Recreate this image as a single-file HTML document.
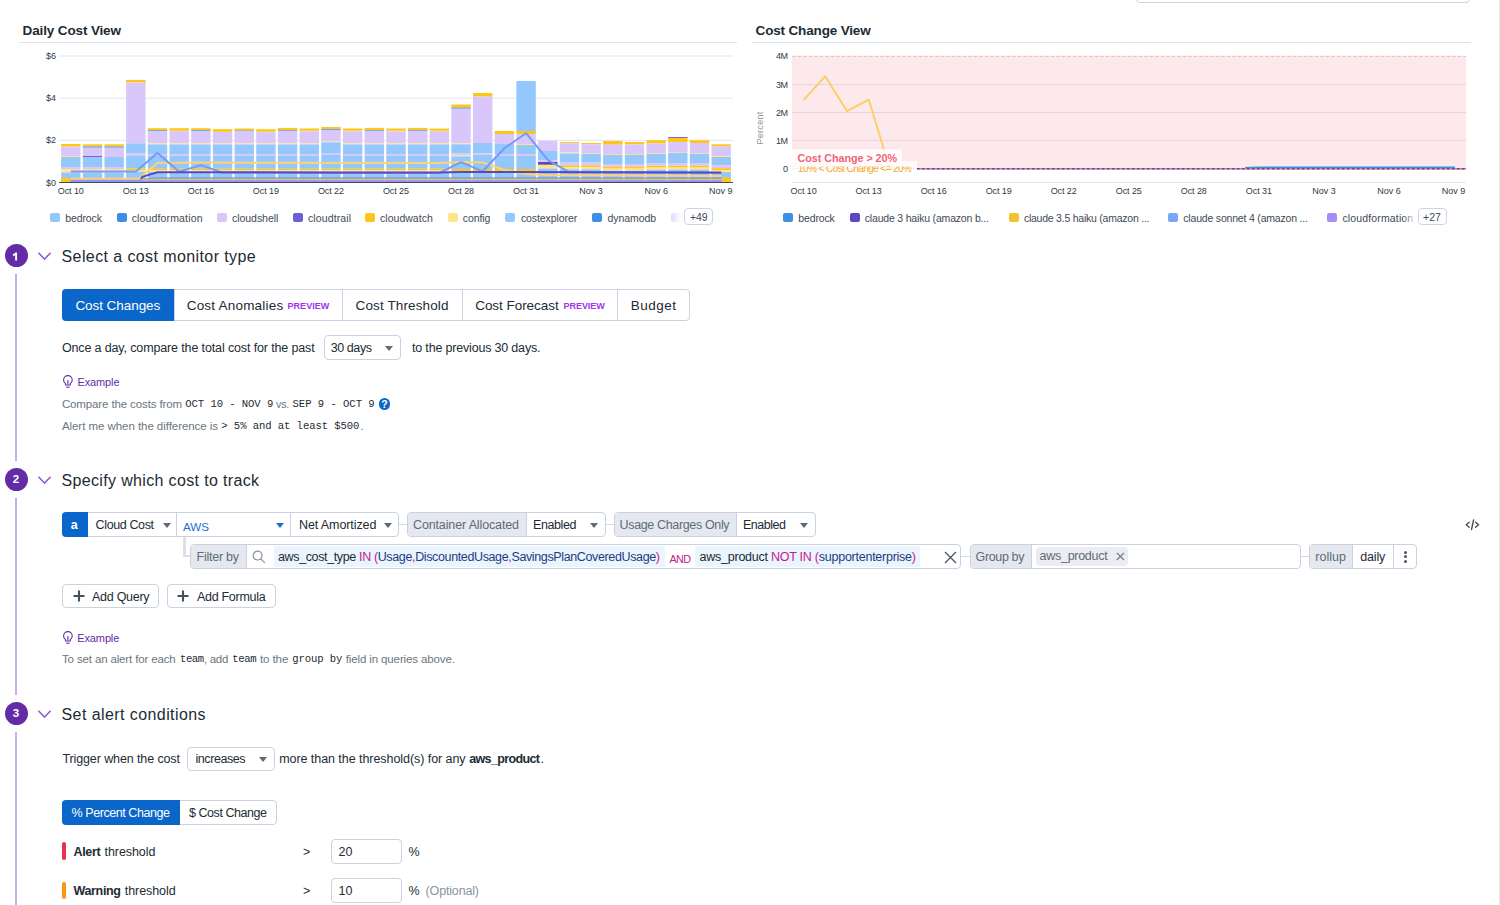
<!DOCTYPE html>
<html><head><meta charset="utf-8"><title>Cost Monitor</title>
<style>html,body{margin:0;padding:0;background:#fff;width:1500px;height:905px;overflow:hidden;position:relative;font-family:'Liberation Sans', sans-serif;}</style>
</head><body>
<div style="position:absolute;left:1135.5px;top:-30px;width:332px;height:31px;border:1px solid #cbd0e3;border-radius:4px;"></div>
<div style="position:absolute;left:1499.00px;top:0.00px;width:1.00px;height:905.00px;background:#e8e8ea"></div>
<div style="position:absolute;left:19.00px;top:42.00px;width:718.00px;height:1.00px;background:#dde1ea"></div>
<div style="position:absolute;left:752.00px;top:42.00px;width:719.00px;height:1.00px;background:#dde1ea"></div>
<svg width="760" height="200" style="position:absolute;left:0;top:0">
<rect x="59" y="55.5" width="674" height="1" fill="#e3e5ea"/>
<rect x="59" y="97.7" width="674" height="1" fill="#e3e5ea"/>
<rect x="59" y="139.8" width="674" height="1" fill="#e3e5ea"/>
<rect x="61.10" y="144.00" width="19.4" height="2.30" fill="#ffc61a"/>
<rect x="61.10" y="146.30" width="19.4" height="0.50" fill="#ffc61a"/>
<rect x="61.10" y="146.80" width="19.4" height="9.20" fill="#d9c7fb"/>
<rect x="61.10" y="156.00" width="19.4" height="1.00" fill="#ffe38a"/>
<rect x="61.10" y="157.00" width="19.4" height="10.00" fill="#94c8fc"/>
<rect x="61.10" y="167.00" width="19.4" height="2.00" fill="#d9c7fb"/>
<rect x="61.10" y="169.00" width="19.4" height="1.50" fill="#ffe38a"/>
<rect x="61.10" y="170.50" width="19.4" height="2.00" fill="#ffe38a"/>
<rect x="61.10" y="172.50" width="19.4" height="5.50" fill="#94c8fc"/>
<rect x="61.10" y="178.00" width="19.4" height="4.40" fill="#94c8fc"/>
<rect x="82.78" y="144.30" width="19.4" height="2.30" fill="#ffc61a"/>
<rect x="82.78" y="146.60" width="19.4" height="1.10" fill="#3b8fe6"/>
<rect x="82.78" y="147.70" width="19.4" height="8.30" fill="#d9c7fb"/>
<rect x="82.78" y="156.00" width="19.4" height="0.90" fill="#5a47c6"/>
<rect x="82.78" y="156.90" width="19.4" height="0.10" fill="#d9c7fb"/>
<rect x="82.78" y="157.00" width="19.4" height="10.00" fill="#94c8fc"/>
<rect x="82.78" y="167.00" width="19.4" height="2.00" fill="#d9c7fb"/>
<rect x="82.78" y="169.00" width="19.4" height="1.50" fill="#ffe38a"/>
<rect x="82.78" y="170.50" width="19.4" height="2.00" fill="#ffe38a"/>
<rect x="82.78" y="172.50" width="19.4" height="5.50" fill="#94c8fc"/>
<rect x="82.78" y="178.00" width="19.4" height="4.40" fill="#94c8fc"/>
<rect x="104.46" y="144.30" width="19.4" height="2.30" fill="#ffc61a"/>
<rect x="104.46" y="146.60" width="19.4" height="1.10" fill="#3b8fe6"/>
<rect x="104.46" y="147.70" width="19.4" height="9.30" fill="#d9c7fb"/>
<rect x="104.46" y="157.00" width="19.4" height="10.00" fill="#94c8fc"/>
<rect x="104.46" y="167.00" width="19.4" height="2.00" fill="#d9c7fb"/>
<rect x="104.46" y="169.00" width="19.4" height="1.50" fill="#ffe38a"/>
<rect x="104.46" y="170.50" width="19.4" height="2.00" fill="#ffe38a"/>
<rect x="104.46" y="172.50" width="19.4" height="5.50" fill="#94c8fc"/>
<rect x="104.46" y="178.00" width="19.4" height="4.40" fill="#94c8fc"/>
<rect x="126.14" y="79.90" width="19.4" height="2.60" fill="#ffc61a"/>
<rect x="126.14" y="82.50" width="19.4" height="60.80" fill="#d9c7fb"/>
<rect x="126.14" y="143.30" width="19.4" height="10.20" fill="#94c8fc"/>
<rect x="126.14" y="153.50" width="19.4" height="2.20" fill="#d9c7fb"/>
<rect x="126.14" y="155.70" width="19.4" height="12.80" fill="#94c8fc"/>
<rect x="126.14" y="168.50" width="19.4" height="1.50" fill="#ffc61a"/>
<rect x="126.14" y="170.00" width="19.4" height="1.50" fill="#ffe38a"/>
<rect x="126.14" y="171.50" width="19.4" height="10.90" fill="#94c8fc"/>
<rect x="147.82" y="128.20" width="19.4" height="2.10" fill="#ffc61a"/>
<rect x="147.82" y="130.30" width="19.4" height="0.80" fill="#3b8fe6"/>
<rect x="147.82" y="131.10" width="19.4" height="12.20" fill="#d9c7fb"/>
<rect x="147.82" y="143.30" width="19.4" height="1.10" fill="#ffe38a"/>
<rect x="147.82" y="144.40" width="19.4" height="9.60" fill="#94c8fc"/>
<rect x="147.82" y="154.00" width="19.4" height="2.00" fill="#d9c7fb"/>
<rect x="147.82" y="156.00" width="19.4" height="12.80" fill="#94c8fc"/>
<rect x="147.82" y="168.80" width="19.4" height="1.30" fill="#ffc61a"/>
<rect x="147.82" y="170.10" width="19.4" height="1.70" fill="#ffe38a"/>
<rect x="147.82" y="171.80" width="19.4" height="10.60" fill="#94c8fc"/>
<rect x="169.50" y="128.20" width="19.4" height="2.10" fill="#ffc61a"/>
<rect x="169.50" y="130.30" width="19.4" height="0.80" fill="#ffc61a"/>
<rect x="169.50" y="131.10" width="19.4" height="12.20" fill="#d9c7fb"/>
<rect x="169.50" y="143.30" width="19.4" height="1.10" fill="#ffe38a"/>
<rect x="169.50" y="144.40" width="19.4" height="9.60" fill="#94c8fc"/>
<rect x="169.50" y="154.00" width="19.4" height="2.00" fill="#d9c7fb"/>
<rect x="169.50" y="156.00" width="19.4" height="12.80" fill="#94c8fc"/>
<rect x="169.50" y="168.80" width="19.4" height="1.30" fill="#ffc61a"/>
<rect x="169.50" y="170.10" width="19.4" height="1.70" fill="#ffe38a"/>
<rect x="169.50" y="171.80" width="19.4" height="10.60" fill="#94c8fc"/>
<rect x="191.18" y="128.20" width="19.4" height="2.10" fill="#ffc61a"/>
<rect x="191.18" y="130.30" width="19.4" height="0.80" fill="#3b8fe6"/>
<rect x="191.18" y="131.10" width="19.4" height="12.20" fill="#d9c7fb"/>
<rect x="191.18" y="143.30" width="19.4" height="1.10" fill="#ffe38a"/>
<rect x="191.18" y="144.40" width="19.4" height="9.60" fill="#94c8fc"/>
<rect x="191.18" y="154.00" width="19.4" height="2.00" fill="#d9c7fb"/>
<rect x="191.18" y="156.00" width="19.4" height="12.80" fill="#94c8fc"/>
<rect x="191.18" y="168.80" width="19.4" height="1.30" fill="#ffc61a"/>
<rect x="191.18" y="170.10" width="19.4" height="1.70" fill="#ffe38a"/>
<rect x="191.18" y="171.80" width="19.4" height="10.60" fill="#94c8fc"/>
<rect x="212.86" y="129.10" width="19.4" height="2.10" fill="#ffc61a"/>
<rect x="212.86" y="131.20" width="19.4" height="0.80" fill="#ffc61a"/>
<rect x="212.86" y="132.00" width="19.4" height="11.30" fill="#d9c7fb"/>
<rect x="212.86" y="143.30" width="19.4" height="1.10" fill="#ffe38a"/>
<rect x="212.86" y="144.40" width="19.4" height="9.60" fill="#94c8fc"/>
<rect x="212.86" y="154.00" width="19.4" height="2.00" fill="#d9c7fb"/>
<rect x="212.86" y="156.00" width="19.4" height="12.80" fill="#94c8fc"/>
<rect x="212.86" y="168.80" width="19.4" height="1.30" fill="#ffc61a"/>
<rect x="212.86" y="170.10" width="19.4" height="1.70" fill="#ffe38a"/>
<rect x="212.86" y="171.80" width="19.4" height="10.60" fill="#94c8fc"/>
<rect x="234.54" y="128.50" width="19.4" height="2.10" fill="#ffc61a"/>
<rect x="234.54" y="130.60" width="19.4" height="0.80" fill="#3b8fe6"/>
<rect x="234.54" y="131.40" width="19.4" height="11.90" fill="#d9c7fb"/>
<rect x="234.54" y="143.30" width="19.4" height="1.10" fill="#ffe38a"/>
<rect x="234.54" y="144.40" width="19.4" height="9.60" fill="#94c8fc"/>
<rect x="234.54" y="154.00" width="19.4" height="2.00" fill="#d9c7fb"/>
<rect x="234.54" y="156.00" width="19.4" height="12.80" fill="#94c8fc"/>
<rect x="234.54" y="168.80" width="19.4" height="1.30" fill="#ffc61a"/>
<rect x="234.54" y="170.10" width="19.4" height="1.70" fill="#ffe38a"/>
<rect x="234.54" y="171.80" width="19.4" height="10.60" fill="#94c8fc"/>
<rect x="256.22" y="129.20" width="19.4" height="2.10" fill="#ffc61a"/>
<rect x="256.22" y="131.30" width="19.4" height="0.80" fill="#ffc61a"/>
<rect x="256.22" y="132.10" width="19.4" height="11.20" fill="#d9c7fb"/>
<rect x="256.22" y="143.30" width="19.4" height="1.10" fill="#ffe38a"/>
<rect x="256.22" y="144.40" width="19.4" height="9.60" fill="#94c8fc"/>
<rect x="256.22" y="154.00" width="19.4" height="2.00" fill="#d9c7fb"/>
<rect x="256.22" y="156.00" width="19.4" height="12.80" fill="#94c8fc"/>
<rect x="256.22" y="168.80" width="19.4" height="1.30" fill="#ffc61a"/>
<rect x="256.22" y="170.10" width="19.4" height="1.70" fill="#ffe38a"/>
<rect x="256.22" y="171.80" width="19.4" height="10.60" fill="#94c8fc"/>
<rect x="277.90" y="127.90" width="19.4" height="2.10" fill="#ffc61a"/>
<rect x="277.90" y="130.00" width="19.4" height="0.80" fill="#3b8fe6"/>
<rect x="277.90" y="130.80" width="19.4" height="12.50" fill="#d9c7fb"/>
<rect x="277.90" y="143.30" width="19.4" height="1.10" fill="#ffe38a"/>
<rect x="277.90" y="144.40" width="19.4" height="9.60" fill="#94c8fc"/>
<rect x="277.90" y="154.00" width="19.4" height="2.00" fill="#d9c7fb"/>
<rect x="277.90" y="156.00" width="19.4" height="12.80" fill="#94c8fc"/>
<rect x="277.90" y="168.80" width="19.4" height="1.30" fill="#ffc61a"/>
<rect x="277.90" y="170.10" width="19.4" height="1.70" fill="#ffe38a"/>
<rect x="277.90" y="171.80" width="19.4" height="10.60" fill="#94c8fc"/>
<rect x="299.58" y="128.50" width="19.4" height="2.10" fill="#ffc61a"/>
<rect x="299.58" y="130.60" width="19.4" height="0.80" fill="#ffc61a"/>
<rect x="299.58" y="131.40" width="19.4" height="11.90" fill="#d9c7fb"/>
<rect x="299.58" y="143.30" width="19.4" height="1.10" fill="#ffe38a"/>
<rect x="299.58" y="144.40" width="19.4" height="9.60" fill="#94c8fc"/>
<rect x="299.58" y="154.00" width="19.4" height="2.00" fill="#d9c7fb"/>
<rect x="299.58" y="156.00" width="19.4" height="12.80" fill="#94c8fc"/>
<rect x="299.58" y="168.80" width="19.4" height="1.30" fill="#ffc61a"/>
<rect x="299.58" y="170.10" width="19.4" height="1.70" fill="#ffe38a"/>
<rect x="299.58" y="171.80" width="19.4" height="10.60" fill="#94c8fc"/>
<rect x="321.26" y="127.00" width="19.4" height="2.10" fill="#ffc61a"/>
<rect x="321.26" y="129.10" width="19.4" height="0.80" fill="#3b8fe6"/>
<rect x="321.26" y="129.90" width="19.4" height="11.60" fill="#d9c7fb"/>
<rect x="321.26" y="141.50" width="19.4" height="0.80" fill="#ffe38a"/>
<rect x="321.26" y="142.30" width="19.4" height="10.70" fill="#94c8fc"/>
<rect x="321.26" y="153.00" width="19.4" height="1.60" fill="#d9c7fb"/>
<rect x="321.26" y="154.60" width="19.4" height="14.20" fill="#94c8fc"/>
<rect x="321.26" y="168.80" width="19.4" height="1.30" fill="#ffc61a"/>
<rect x="321.26" y="170.10" width="19.4" height="1.70" fill="#ffe38a"/>
<rect x="321.26" y="171.80" width="19.4" height="10.60" fill="#94c8fc"/>
<rect x="342.94" y="128.50" width="19.4" height="2.10" fill="#ffc61a"/>
<rect x="342.94" y="130.60" width="19.4" height="0.80" fill="#ffc61a"/>
<rect x="342.94" y="131.40" width="19.4" height="11.90" fill="#d9c7fb"/>
<rect x="342.94" y="143.30" width="19.4" height="1.10" fill="#ffe38a"/>
<rect x="342.94" y="144.40" width="19.4" height="9.60" fill="#94c8fc"/>
<rect x="342.94" y="154.00" width="19.4" height="2.00" fill="#d9c7fb"/>
<rect x="342.94" y="156.00" width="19.4" height="12.80" fill="#94c8fc"/>
<rect x="342.94" y="168.80" width="19.4" height="1.30" fill="#ffc61a"/>
<rect x="342.94" y="170.10" width="19.4" height="1.70" fill="#ffe38a"/>
<rect x="342.94" y="171.80" width="19.4" height="10.60" fill="#94c8fc"/>
<rect x="364.62" y="127.90" width="19.4" height="2.10" fill="#ffc61a"/>
<rect x="364.62" y="130.00" width="19.4" height="0.80" fill="#3b8fe6"/>
<rect x="364.62" y="130.80" width="19.4" height="12.50" fill="#d9c7fb"/>
<rect x="364.62" y="143.30" width="19.4" height="1.10" fill="#ffe38a"/>
<rect x="364.62" y="144.40" width="19.4" height="9.60" fill="#94c8fc"/>
<rect x="364.62" y="154.00" width="19.4" height="2.00" fill="#d9c7fb"/>
<rect x="364.62" y="156.00" width="19.4" height="12.80" fill="#94c8fc"/>
<rect x="364.62" y="168.80" width="19.4" height="1.30" fill="#ffc61a"/>
<rect x="364.62" y="170.10" width="19.4" height="1.70" fill="#ffe38a"/>
<rect x="364.62" y="171.80" width="19.4" height="10.60" fill="#94c8fc"/>
<rect x="386.30" y="128.50" width="19.4" height="2.10" fill="#ffc61a"/>
<rect x="386.30" y="130.60" width="19.4" height="0.80" fill="#ffc61a"/>
<rect x="386.30" y="131.40" width="19.4" height="11.90" fill="#d9c7fb"/>
<rect x="386.30" y="143.30" width="19.4" height="1.10" fill="#ffe38a"/>
<rect x="386.30" y="144.40" width="19.4" height="9.60" fill="#94c8fc"/>
<rect x="386.30" y="154.00" width="19.4" height="2.00" fill="#d9c7fb"/>
<rect x="386.30" y="156.00" width="19.4" height="12.80" fill="#94c8fc"/>
<rect x="386.30" y="168.80" width="19.4" height="1.30" fill="#ffc61a"/>
<rect x="386.30" y="170.10" width="19.4" height="1.70" fill="#ffe38a"/>
<rect x="386.30" y="171.80" width="19.4" height="10.60" fill="#94c8fc"/>
<rect x="407.98" y="127.90" width="19.4" height="2.10" fill="#ffc61a"/>
<rect x="407.98" y="130.00" width="19.4" height="0.80" fill="#3b8fe6"/>
<rect x="407.98" y="130.80" width="19.4" height="12.50" fill="#d9c7fb"/>
<rect x="407.98" y="143.30" width="19.4" height="1.10" fill="#ffe38a"/>
<rect x="407.98" y="144.40" width="19.4" height="9.60" fill="#94c8fc"/>
<rect x="407.98" y="154.00" width="19.4" height="2.00" fill="#d9c7fb"/>
<rect x="407.98" y="156.00" width="19.4" height="12.80" fill="#94c8fc"/>
<rect x="407.98" y="168.80" width="19.4" height="1.30" fill="#ffc61a"/>
<rect x="407.98" y="170.10" width="19.4" height="1.70" fill="#ffe38a"/>
<rect x="407.98" y="171.80" width="19.4" height="10.60" fill="#94c8fc"/>
<rect x="429.66" y="128.60" width="19.4" height="2.10" fill="#ffc61a"/>
<rect x="429.66" y="130.70" width="19.4" height="0.80" fill="#ffc61a"/>
<rect x="429.66" y="131.50" width="19.4" height="11.80" fill="#d9c7fb"/>
<rect x="429.66" y="143.30" width="19.4" height="1.10" fill="#ffe38a"/>
<rect x="429.66" y="144.40" width="19.4" height="9.60" fill="#94c8fc"/>
<rect x="429.66" y="154.00" width="19.4" height="2.00" fill="#d9c7fb"/>
<rect x="429.66" y="156.00" width="19.4" height="12.80" fill="#94c8fc"/>
<rect x="429.66" y="168.80" width="19.4" height="1.30" fill="#ffc61a"/>
<rect x="429.66" y="170.10" width="19.4" height="1.70" fill="#ffe38a"/>
<rect x="429.66" y="171.80" width="19.4" height="10.60" fill="#94c8fc"/>
<rect x="451.34" y="104.50" width="19.4" height="3.10" fill="#ffc61a"/>
<rect x="451.34" y="107.60" width="19.4" height="1.10" fill="#3b8fe6"/>
<rect x="451.34" y="108.70" width="19.4" height="34.60" fill="#d9c7fb"/>
<rect x="451.34" y="143.30" width="19.4" height="1.00" fill="#ffe38a"/>
<rect x="451.34" y="144.30" width="19.4" height="9.20" fill="#94c8fc"/>
<rect x="451.34" y="153.50" width="19.4" height="1.80" fill="#d9c7fb"/>
<rect x="451.34" y="155.30" width="19.4" height="1.00" fill="#ffe38a"/>
<rect x="451.34" y="156.30" width="19.4" height="12.70" fill="#94c8fc"/>
<rect x="451.34" y="169.00" width="19.4" height="2.00" fill="#ffc61a"/>
<rect x="451.34" y="171.00" width="19.4" height="11.40" fill="#94c8fc"/>
<rect x="473.02" y="93.00" width="19.4" height="3.60" fill="#ffc61a"/>
<rect x="473.02" y="96.60" width="19.4" height="46.40" fill="#d9c7fb"/>
<rect x="473.02" y="143.00" width="19.4" height="10.30" fill="#94c8fc"/>
<rect x="473.02" y="153.30" width="19.4" height="1.70" fill="#d9c7fb"/>
<rect x="473.02" y="155.00" width="19.4" height="14.00" fill="#94c8fc"/>
<rect x="473.02" y="169.00" width="19.4" height="2.00" fill="#ffc61a"/>
<rect x="473.02" y="171.00" width="19.4" height="11.40" fill="#94c8fc"/>
<rect x="494.70" y="131.00" width="19.4" height="3.00" fill="#ffc61a"/>
<rect x="494.70" y="134.00" width="19.4" height="10.00" fill="#d9c7fb"/>
<rect x="494.70" y="144.00" width="19.4" height="10.00" fill="#94c8fc"/>
<rect x="494.70" y="154.00" width="19.4" height="2.00" fill="#d9c7fb"/>
<rect x="494.70" y="156.00" width="19.4" height="13.00" fill="#94c8fc"/>
<rect x="494.70" y="169.00" width="19.4" height="2.00" fill="#ffc61a"/>
<rect x="494.70" y="171.00" width="19.4" height="11.40" fill="#94c8fc"/>
<rect x="516.38" y="81.00" width="19.4" height="50.00" fill="#94c8fc"/>
<rect x="516.38" y="131.00" width="19.4" height="3.00" fill="#ffc61a"/>
<rect x="516.38" y="134.00" width="19.4" height="10.00" fill="#d9c7fb"/>
<rect x="516.38" y="144.00" width="19.4" height="1.00" fill="#ffe38a"/>
<rect x="516.38" y="145.00" width="19.4" height="9.00" fill="#94c8fc"/>
<rect x="516.38" y="154.00" width="19.4" height="2.00" fill="#d9c7fb"/>
<rect x="516.38" y="156.00" width="19.4" height="13.00" fill="#94c8fc"/>
<rect x="516.38" y="169.00" width="19.4" height="2.00" fill="#ffc61a"/>
<rect x="516.38" y="171.00" width="19.4" height="11.40" fill="#94c8fc"/>
<rect x="538.06" y="140.80" width="19.4" height="10.10" fill="#d9c7fb"/>
<rect x="538.06" y="150.90" width="19.4" height="9.30" fill="#94c8fc"/>
<rect x="538.06" y="160.20" width="19.4" height="1.80" fill="#d9c7fb"/>
<rect x="538.06" y="162.00" width="19.4" height="2.80" fill="#5a47c6"/>
<rect x="538.06" y="164.80" width="19.4" height="0.70" fill="#ffc61a"/>
<rect x="538.06" y="165.50" width="19.4" height="3.00" fill="#ffe38a"/>
<rect x="538.06" y="168.50" width="19.4" height="13.90" fill="#94c8fc"/>
<rect x="559.74" y="142.10" width="19.4" height="1.20" fill="#ffc61a"/>
<rect x="559.74" y="143.30" width="19.4" height="9.30" fill="#d9c7fb"/>
<rect x="559.74" y="152.60" width="19.4" height="0.90" fill="#ffe38a"/>
<rect x="559.74" y="153.50" width="19.4" height="9.20" fill="#94c8fc"/>
<rect x="559.74" y="162.70" width="19.4" height="2.70" fill="#d9c7fb"/>
<rect x="559.74" y="165.40" width="19.4" height="1.90" fill="#ffc61a"/>
<rect x="559.74" y="167.30" width="19.4" height="2.00" fill="#ffe38a"/>
<rect x="559.74" y="169.30" width="19.4" height="13.10" fill="#94c8fc"/>
<rect x="581.42" y="143.00" width="19.4" height="1.20" fill="#ffc61a"/>
<rect x="581.42" y="144.20" width="19.4" height="8.80" fill="#d9c7fb"/>
<rect x="581.42" y="153.00" width="19.4" height="0.90" fill="#ffe38a"/>
<rect x="581.42" y="153.90" width="19.4" height="8.80" fill="#94c8fc"/>
<rect x="581.42" y="162.70" width="19.4" height="2.70" fill="#d9c7fb"/>
<rect x="581.42" y="165.40" width="19.4" height="1.90" fill="#ffc61a"/>
<rect x="581.42" y="167.30" width="19.4" height="2.00" fill="#ffe38a"/>
<rect x="581.42" y="169.30" width="19.4" height="13.10" fill="#94c8fc"/>
<rect x="603.10" y="141.00" width="19.4" height="3.70" fill="#ffc61a"/>
<rect x="603.10" y="144.70" width="19.4" height="9.30" fill="#d9c7fb"/>
<rect x="603.10" y="154.00" width="19.4" height="0.90" fill="#ffe38a"/>
<rect x="603.10" y="154.90" width="19.4" height="9.10" fill="#94c8fc"/>
<rect x="603.10" y="164.00" width="19.4" height="2.70" fill="#d9c7fb"/>
<rect x="603.10" y="166.70" width="19.4" height="1.90" fill="#ffc61a"/>
<rect x="603.10" y="168.60" width="19.4" height="2.00" fill="#ffe38a"/>
<rect x="603.10" y="170.60" width="19.4" height="11.80" fill="#94c8fc"/>
<rect x="624.78" y="142.00" width="19.4" height="2.50" fill="#ffc61a"/>
<rect x="624.78" y="144.50" width="19.4" height="9.50" fill="#d9c7fb"/>
<rect x="624.78" y="154.00" width="19.4" height="0.90" fill="#ffe38a"/>
<rect x="624.78" y="154.90" width="19.4" height="9.10" fill="#94c8fc"/>
<rect x="624.78" y="164.00" width="19.4" height="2.70" fill="#d9c7fb"/>
<rect x="624.78" y="166.70" width="19.4" height="1.90" fill="#ffc61a"/>
<rect x="624.78" y="168.60" width="19.4" height="2.00" fill="#ffe38a"/>
<rect x="624.78" y="170.60" width="19.4" height="11.80" fill="#94c8fc"/>
<rect x="646.46" y="140.20" width="19.4" height="3.30" fill="#ffc61a"/>
<rect x="646.46" y="143.50" width="19.4" height="9.50" fill="#d9c7fb"/>
<rect x="646.46" y="153.00" width="19.4" height="0.90" fill="#ffe38a"/>
<rect x="646.46" y="153.90" width="19.4" height="9.10" fill="#94c8fc"/>
<rect x="646.46" y="163.00" width="19.4" height="2.70" fill="#d9c7fb"/>
<rect x="646.46" y="165.70" width="19.4" height="1.90" fill="#ffc61a"/>
<rect x="646.46" y="167.60" width="19.4" height="2.00" fill="#ffe38a"/>
<rect x="646.46" y="169.60" width="19.4" height="12.80" fill="#94c8fc"/>
<rect x="668.14" y="137.20" width="19.4" height="0.80" fill="#5a47c6"/>
<rect x="668.14" y="138.00" width="19.4" height="4.10" fill="#ffc61a"/>
<rect x="668.14" y="142.10" width="19.4" height="9.90" fill="#d9c7fb"/>
<rect x="668.14" y="152.00" width="19.4" height="0.90" fill="#ffe38a"/>
<rect x="668.14" y="152.90" width="19.4" height="10.10" fill="#94c8fc"/>
<rect x="668.14" y="163.00" width="19.4" height="2.70" fill="#d9c7fb"/>
<rect x="668.14" y="165.70" width="19.4" height="1.90" fill="#ffc61a"/>
<rect x="668.14" y="167.60" width="19.4" height="2.00" fill="#ffe38a"/>
<rect x="668.14" y="169.60" width="19.4" height="12.80" fill="#94c8fc"/>
<rect x="689.82" y="140.20" width="19.4" height="2.80" fill="#ffc61a"/>
<rect x="689.82" y="143.00" width="19.4" height="10.00" fill="#d9c7fb"/>
<rect x="689.82" y="153.00" width="19.4" height="0.90" fill="#ffe38a"/>
<rect x="689.82" y="153.90" width="19.4" height="9.10" fill="#94c8fc"/>
<rect x="689.82" y="163.00" width="19.4" height="2.70" fill="#d9c7fb"/>
<rect x="689.82" y="165.70" width="19.4" height="1.90" fill="#ffc61a"/>
<rect x="689.82" y="167.60" width="19.4" height="2.00" fill="#ffe38a"/>
<rect x="689.82" y="169.60" width="19.4" height="12.80" fill="#94c8fc"/>
<rect x="711.50" y="144.30" width="19.4" height="2.10" fill="#ffc61a"/>
<rect x="711.50" y="146.40" width="19.4" height="9.70" fill="#d9c7fb"/>
<rect x="711.50" y="156.10" width="19.4" height="0.90" fill="#ffe38a"/>
<rect x="711.50" y="157.00" width="19.4" height="8.50" fill="#94c8fc"/>
<rect x="711.50" y="165.50" width="19.4" height="2.70" fill="#d9c7fb"/>
<rect x="711.50" y="168.20" width="19.4" height="1.90" fill="#ffc61a"/>
<rect x="711.50" y="170.10" width="19.4" height="2.00" fill="#ffe38a"/>
<rect x="711.50" y="172.10" width="19.4" height="10.30" fill="#94c8fc"/>
<rect x="61.1" y="177.8" width="9" height="4.6" fill="#ffc61a"/>
<rect x="721.8" y="177.5" width="9" height="4.9" fill="#ffc61a"/>
<rect x="70.6" y="180.2" width="651" height="1.8" fill="#a18cf7"/>
<polyline points="70.8,179.6 140.8,179.6 157.5,178.0 721.2,178.0" fill="none" stroke="#759cf5" stroke-width="1.7" stroke-linejoin="round"/>
<polyline points="140.8,179.8 157.5,179.5 721.2,179.5" fill="none" stroke="#ffc61a" stroke-width="1.0" stroke-linejoin="round"/>
<polyline points="70.8,178.8 138.8,178.8 157.5,163.0 200.9,162.6 439.4,163.0 461.0,162.0 482.7,162.4 504.4,170.0 526.1,174.0 547.8,175.0 721.2,176.0" fill="none" stroke="#ffd46e" stroke-width="2" stroke-linejoin="round"/>
<polyline points="70.8,171.4 135.8,171.4 157.5,153.0 179.2,171.7 200.9,165.1 222.6,172.7 439.4,173.0 461.0,162.2 482.7,171.3 504.4,148.3 526.1,133.2 547.8,159.8 569.4,172.3 721.2,173.0" fill="none" stroke="#759cf5" stroke-width="2" stroke-linejoin="round"/>
<polyline points="140.8,178.6 143.0,176.6 157.5,172.2 331.0,172.4 439.4,172.6 461.0,172.0 721.2,172.4" fill="none" stroke="#5a47c6" stroke-width="2" stroke-linejoin="round"/>
<rect x="59" y="182" width="674" height="1" fill="#3e4a57"/>
</svg>
<svg width="1500" height="200" style="position:absolute;left:0;top:0">
<rect x="792" y="56.3" width="674" height="112.39999999999999" fill="#fde8eb"/>
<rect x="792" y="84.1" width="674" height="1" fill="#e9d3d8"/>
<rect x="792" y="112.0" width="674" height="1" fill="#e9d3d8"/>
<rect x="792" y="139.9" width="674" height="1" fill="#e9d3d8"/>
<line x1="792" y1="56.3" x2="1466" y2="56.3" stroke="#f2b3bd" stroke-width="1" stroke-dasharray="4,1.5"/>
<rect x="792" y="182" width="674" height="1" fill="#e3e5ea"/>
<polyline points="803.6,99.8 825.2,76.3 846.9,111.1 868.8,99.6 889.7,168.7" fill="none" stroke="#f9cf5f" stroke-width="1.8" stroke-linejoin="round"/>
<polyline points="1245.0,168.0 1258.0,167.3 1455.0,167.3" fill="none" stroke="#3b8fe6" stroke-width="1.8" stroke-linejoin="round"/>
<line x1="792" y1="168.7" x2="1466" y2="168.7" stroke="#eaa3b2" stroke-width="1.1"/>
<line x1="917" y1="168.7" x2="1466" y2="168.7" stroke="#c97a95" stroke-width="1.4"/>
<line x1="917" y1="168.7" x2="1466" y2="168.7" stroke="#3d3f9e" stroke-width="1.4" stroke-dasharray="2.5,2.5" stroke-opacity="0.8"/>
<rect x="792" y="161" width="125" height="13.4" fill="#ffffff" fill-opacity="0.8"/>
<rect x="792" y="149.3" width="109.7" height="12.7" fill="#ffffff" fill-opacity="0.85"/>
</svg>
<div style="position:absolute;left:738px;top:121.2px;width:44px;height:14px;transform:rotate(-90deg);font:400 9px/14px 'Liberation Sans',sans-serif;color:#8a949c;text-align:center;letter-spacing:0.3px">Percent</div>
<div style="position:absolute;left:50.10px;top:212.50px;width:10.00px;height:9.80px;background:#94c8fc;border-radius:2px"></div>
<div style="position:absolute;left:116.80px;top:212.50px;width:10.00px;height:9.80px;background:#3b8fe6;border-radius:2px"></div>
<div style="position:absolute;left:217.10px;top:212.50px;width:10.00px;height:9.80px;background:#d9c7fb;border-radius:2px"></div>
<div style="position:absolute;left:293.20px;top:212.50px;width:10.00px;height:9.80px;background:#6c5dd9;border-radius:2px"></div>
<div style="position:absolute;left:365.20px;top:212.50px;width:10.00px;height:9.80px;background:#ffc61a;border-radius:2px"></div>
<div style="position:absolute;left:447.90px;top:212.50px;width:10.00px;height:9.80px;background:#ffe38a;border-radius:2px"></div>
<div style="position:absolute;left:505.30px;top:212.50px;width:10.00px;height:9.80px;background:#94c8fc;border-radius:2px"></div>
<div style="position:absolute;left:592.40px;top:212.50px;width:10.00px;height:9.80px;background:#3b8fe6;border-radius:2px"></div>
<div style="position:absolute;left:670.90px;top:212.50px;width:10.00px;height:9.80px;background:linear-gradient(90deg,#e4d8fc,#fff);border-radius:2px"></div>
<div style="position:absolute;left:684.3px;top:208.4px;width:27px;height:15px;border:1px solid #cfd3e6;border-radius:4px;font:400 10.5px/16.6px 'Liberation Sans',sans-serif;color:#3e4a57;text-align:center">+49</div>
<div style="position:absolute;left:783.20px;top:212.50px;width:10.00px;height:9.80px;background:#3b8fe6;border-radius:2px"></div>
<div style="position:absolute;left:849.90px;top:212.50px;width:10.00px;height:9.80px;background:#5b48c6;border-radius:2px"></div>
<div style="position:absolute;left:1009.30px;top:212.50px;width:10.00px;height:9.80px;background:#f2c12e;border-radius:2px"></div>
<div style="position:absolute;left:1168.40px;top:212.50px;width:10.00px;height:9.80px;background:#7aa7f5;border-radius:2px"></div>
<div style="position:absolute;left:1327.30px;top:212.50px;width:10.00px;height:9.80px;background:#a68cf5;border-radius:2px"></div>
<div style="position:absolute;left:1417.5px;top:208.4px;width:27px;height:15px;border:1px solid #cfd3e6;border-radius:4px;font:400 10.5px/16.6px 'Liberation Sans',sans-serif;color:#3e4a57;text-align:center;background:#fff">+27</div>
<div style="position:absolute;left:4.5px;top:244.0px;width:23px;height:23px;border-radius:50%;background:#632ca6"></div>
<svg style="position:absolute;left:0;top:243.5px" width="30" height="24"><path d="M13.1,11.6 L16.1,9.3 L16.1,16.6" fill="none" stroke="#fff" stroke-width="1.9" stroke-linejoin="round"/></svg>
<svg style="position:absolute;left:36px;top:252.0px" width="17" height="12"><polyline points="2.4,0.8 8.5,7 14.6,0.8" fill="none" stroke="#8f5fd3" stroke-width="1.6"/></svg>
<div style="position:absolute;left:4.5px;top:468.0px;width:23px;height:23px;border-radius:50%;background:#632ca6;color:#fff;font:700 11.5px/23.5px 'Liberation Sans',sans-serif;text-align:center">2</div>
<svg style="position:absolute;left:36px;top:476.0px" width="17" height="12"><polyline points="2.4,0.8 8.5,7 14.6,0.8" fill="none" stroke="#8f5fd3" stroke-width="1.6"/></svg>
<div style="position:absolute;left:4.5px;top:702.0px;width:23px;height:23px;border-radius:50%;background:#632ca6;color:#fff;font:700 11.5px/23.5px 'Liberation Sans',sans-serif;text-align:center">3</div>
<svg style="position:absolute;left:36px;top:710.0px" width="17" height="12"><polyline points="2.4,0.8 8.5,7 14.6,0.8" fill="none" stroke="#8f5fd3" stroke-width="1.6"/></svg>
<div style="position:absolute;left:15.20px;top:274.00px;width:1.60px;height:186.70px;background:#c8aee6"></div>
<div style="position:absolute;left:15.20px;top:498.00px;width:1.60px;height:196.70px;background:#c8aee6"></div>
<div style="position:absolute;left:15.20px;top:732.00px;width:1.60px;height:173.00px;background:#c8aee6"></div>
<div style="position:absolute;left:62px;top:289px;width:625.5px;height:30px;border:1px solid #cbd0e3;border-radius:4px"></div>
<div style="position:absolute;left:62.00px;top:289.00px;width:112.00px;height:32.00px;background:#0a66c8;border-radius:4px 0 0 4px"></div>
<div style="position:absolute;left:341.60px;top:290.00px;width:1.00px;height:30.00px;background:#cbd0e3"></div>
<div style="position:absolute;left:461.90px;top:290.00px;width:1.00px;height:30.00px;background:#cbd0e3"></div>
<div style="position:absolute;left:616.80px;top:290.00px;width:1.00px;height:30.00px;background:#cbd0e3"></div>
<div style="position:absolute;left:173.50px;top:290.00px;width:1.00px;height:30.00px;background:#cbd0e3"></div>
<div style="position:absolute;left:323.5px;top:335px;width:75px;height:22.6px;border:1px solid #cbd0e3;border-radius:4px"></div>
<div style="position:absolute;left:385.0px;top:345.5px;width:0;height:0;border-left:4.5px solid transparent;border-right:4.5px solid transparent;border-top:5px solid #5f6b76"></div>
<svg style="position:absolute;left:63.3px;top:375.2px" width="10" height="13" fill="none" stroke="#632ca6" stroke-width="1.1"><path d="M2.5,8.6 C1.2,7.6 0.6,6.4 0.6,4.9 C0.6,2.5 2.5,0.6 4.9,0.6 C7.3,0.6 9.2,2.5 9.2,4.9 C9.2,6.4 8.6,7.6 7.3,8.6 L7.3,10 L2.5,10 Z"/><path d="M4.9,5 L4.9,9.6"/><path d="M3.2,12.2 L6.6,12.2"/></svg>
<div style="position:absolute;left:378.7px;top:398px;width:11.5px;height:11.5px;border-radius:50%;background:#0a66c8;color:#fff;font:700 10.5px/12px 'Liberation Sans',sans-serif;text-align:center">?</div>
<div style="position:absolute;left:62px;top:512.2px;width:335px;height:22.4px;border:1px solid #cbd0e3;border-radius:4px;background:#fff"></div>
<div style="position:absolute;left:62.00px;top:512.20px;width:26.00px;height:24.40px;background:#0a66c8;border-radius:4px 0 0 4px"></div>
<div style="position:absolute;left:176.00px;top:513.20px;width:1.00px;height:22.40px;background:#cbd0e3"></div>
<div style="position:absolute;left:290.00px;top:513.20px;width:1.00px;height:22.40px;background:#cbd0e3"></div>
<div style="position:absolute;left:162.8px;top:523.0px;width:0;height:0;border-left:4.5px solid transparent;border-right:4.5px solid transparent;border-top:5px solid #5f6b76"></div>
<div style="position:absolute;left:276.2px;top:523.0px;width:0;height:0;border-left:4.5px solid transparent;border-right:4.5px solid transparent;border-top:5px solid #1a6fd1"></div>
<div style="position:absolute;left:383.6px;top:523.0px;width:0;height:0;border-left:4.5px solid transparent;border-right:4.5px solid transparent;border-top:5px solid #5f6b76"></div>
<div style="position:absolute;left:398.60px;top:524.30px;width:8.40px;height:1.00px;background:#d5d9e6"></div>
<div style="position:absolute;left:605.60px;top:524.30px;width:8.00px;height:1.00px;background:#d5d9e6"></div>
<div style="position:absolute;left:407px;top:512.2px;width:196.6px;height:22.4px;border:1px solid #cbd0e3;border-radius:4px;background:#fff;overflow:hidden"><div style="position:absolute;left:0;top:0;width:118px;height:100%;background:#e6e8f0;border-right:1px solid #cbd0e3"></div></div>
<div style="position:absolute;left:589.8px;top:523.0px;width:0;height:0;border-left:4.5px solid transparent;border-right:4.5px solid transparent;border-top:5px solid #5f6b76"></div>
<div style="position:absolute;left:613.6px;top:512.2px;width:200px;height:22.4px;border:1px solid #cbd0e3;border-radius:4px;background:#fff;overflow:hidden"><div style="position:absolute;left:0;top:0;width:121px;height:100%;background:#e6e8f0;border-right:1px solid #cbd0e3"></div></div>
<div style="position:absolute;left:799.6px;top:523.0px;width:0;height:0;border-left:4.5px solid transparent;border-right:4.5px solid transparent;border-top:5px solid #5f6b76"></div>
<svg style="position:absolute;left:1460px;top:515px" width="25" height="20" fill="none" stroke="#45515c" stroke-width="1.4" stroke-linecap="round" stroke-linejoin="round"><path d="M9.2,7.3 L6.2,9.7 L9.2,12.2"/><path d="M13.6,5 L11.5,14.5"/><path d="M15.6,7.3 L18.6,9.7 L15.6,12.2"/></svg>
<div style="position:absolute;left:183.20px;top:536.60px;width:2.60px;height:20.80px;background:#dde0ea"></div>
<div style="position:absolute;left:183.20px;top:554.80px;width:7.80px;height:2.60px;background:#dde0ea"></div>
<div style="position:absolute;left:190px;top:544.4px;width:769.2px;height:22.4px;border:1px solid #cbd0e3;border-radius:4px;background:#fff;overflow:hidden"><div style="position:absolute;left:0;top:0;width:55px;height:100%;background:#e6e8f0;border-right:1px solid #cbd0e3"></div><div style="position:absolute;left:83px;top:1px;width:390.6px;bottom:1px;background:#eaf5fd"></div><div style="position:absolute;left:504px;top:1px;width:225px;bottom:1px;background:#eaf5fd"></div></div>
<svg style="position:absolute;left:252px;top:549.5px" width="14" height="14" fill="none" stroke="#8a939c" stroke-width="1.2"><circle cx="5.6" cy="5.6" r="4.4"/><path d="M8.8,8.8 L12.8,12.8"/></svg>
<svg style="position:absolute;left:943.5px;top:551px" width="13" height="13" stroke="#4a5560" stroke-width="1.3"><path d="M1,1 L12,12 M12,1 L1,12"/></svg>
<div style="position:absolute;left:961.20px;top:556.10px;width:8.40px;height:1.00px;background:#d5d9e6"></div>
<div style="position:absolute;left:969.6px;top:544.4px;width:329.7px;height:22.4px;border:1px solid #cbd0e3;border-radius:4px;background:#fff;overflow:hidden"><div style="position:absolute;left:0;top:0;width:60px;height:100%;background:#e6e8f0;border-right:1px solid #cbd0e3"></div><div style="position:absolute;left:65.4px;top:1.6px;width:92.4px;height:19px;background:#ebedf3;border-radius:4px"></div></div>
<svg style="position:absolute;left:1115.5px;top:551.5px" width="9" height="9" stroke="#6b7680" stroke-width="1.1"><path d="M0.8,0.8 L8,8 M8,0.8 L0.8,8"/></svg>
<div style="position:absolute;left:1301.30px;top:556.10px;width:8.10px;height:1.00px;background:#d5d9e6"></div>
<div style="position:absolute;left:1309.4px;top:544.4px;width:105.8px;height:22.4px;border:1px solid #cbd0e3;border-radius:4px;background:#fff;overflow:hidden"><div style="position:absolute;left:0;top:0;width:42px;height:100%;background:#e6e8f0;border-right:1px solid #cbd0e3"></div><div style="position:absolute;left:82.8px;top:0;width:1px;height:100%;background:#cbd0e3"></div></div>
<div style="position:absolute;left:1403.6000000000001px;top:550.5px;width:3.2px;height:3.2px;border-radius:50%;background:#4a5560"></div>
<div style="position:absolute;left:1403.6000000000001px;top:555.0px;width:3.2px;height:3.2px;border-radius:50%;background:#4a5560"></div>
<div style="position:absolute;left:1403.6000000000001px;top:559.5px;width:3.2px;height:3.2px;border-radius:50%;background:#4a5560"></div>
<div style="position:absolute;left:62.4px;top:584.4px;width:94.2px;height:22.0px;border:1px solid #cbd0e3;border-radius:4px;background:#fff"></div>
<svg style="position:absolute;left:73px;top:590.4px" width="12" height="12" stroke="#45515c" stroke-width="2.1"><path d="M6,0.5 L6,11.5 M0.5,6 L11.5,6"/></svg>
<div style="position:absolute;left:166.6px;top:584.4px;width:107.0px;height:22.0px;border:1px solid #cbd0e3;border-radius:4px;background:#fff"></div>
<svg style="position:absolute;left:177px;top:590.4px" width="12" height="12" stroke="#45515c" stroke-width="2.1"><path d="M6,0.5 L6,11.5 M0.5,6 L11.5,6"/></svg>
<svg style="position:absolute;left:63.3px;top:631px" width="10" height="13" fill="none" stroke="#632ca6" stroke-width="1.1"><path d="M2.5,8.6 C1.2,7.6 0.6,6.4 0.6,4.9 C0.6,2.5 2.5,0.6 4.9,0.6 C7.3,0.6 9.2,2.5 9.2,4.9 C9.2,6.4 8.6,7.6 7.3,8.6 L7.3,10 L2.5,10 Z"/><path d="M4.9,5 L4.9,9.6"/><path d="M3.2,12.2 L6.6,12.2"/></svg>
<div style="position:absolute;left:187.4px;top:746.6px;width:85.2px;height:22px;border:1px solid #cbd0e3;border-radius:4px"></div>
<div style="position:absolute;left:259.4px;top:757.0px;width:0;height:0;border-left:4.5px solid transparent;border-right:4.5px solid transparent;border-top:5px solid #5f6b76"></div>
<div style="position:absolute;left:62.4px;top:800.2px;width:212.2px;height:22.4px;border:1px solid #cbd0e3;border-radius:4px"></div>
<div style="position:absolute;left:62.40px;top:800.20px;width:117.20px;height:24.40px;background:#0a66c8;border-radius:4px 0 0 4px"></div>
<div style="position:absolute;left:62.00px;top:842.40px;width:4.00px;height:17.60px;background:#e8334f;border-radius:2px"></div>
<div style="position:absolute;left:330.5px;top:839px;width:69.1px;height:22.6px;border:1px solid #cbd0e3;border-radius:4px"></div>
<div style="position:absolute;left:62.00px;top:882.00px;width:4.00px;height:17.40px;background:#f79a0e;border-radius:2px"></div>
<div style="position:absolute;left:330.5px;top:878px;width:69.1px;height:22.6px;border:1px solid #cbd0e3;border-radius:4px"></div>
<div style="position:absolute;left:1403px;top:209px;width:12px;height:16px;background:linear-gradient(90deg,rgba(255,255,255,0),rgba(255,255,255,0.85));z-index:5"></div>
<span style="position:absolute;left:22.60px;top:22.78px;font:700 13.5px/1.117 'Liberation Sans', sans-serif;color:#1c2b34;white-space:pre;letter-spacing:-0.135px;">Daily Cost View</span>
<span style="position:absolute;left:755.60px;top:22.78px;font:700 13.5px/1.117 'Liberation Sans', sans-serif;color:#1c2b34;white-space:pre;letter-spacing:-0.162px;">Cost Change View</span>
<span style="position:absolute;left:46.00px;top:51.16px;font:400 9px/1.117 'Liberation Sans', sans-serif;color:#2f3b46;white-space:pre;letter-spacing:-0.016px;">$6</span>
<span style="position:absolute;left:46.00px;top:93.36px;font:400 9px/1.117 'Liberation Sans', sans-serif;color:#2f3b46;white-space:pre;letter-spacing:-0.016px;">$4</span>
<span style="position:absolute;left:46.00px;top:135.46px;font:400 9px/1.117 'Liberation Sans', sans-serif;color:#2f3b46;white-space:pre;letter-spacing:-0.016px;">$2</span>
<span style="position:absolute;left:46.00px;top:177.56px;font:400 9px/1.117 'Liberation Sans', sans-serif;color:#2f3b46;white-space:pre;letter-spacing:-0.016px;">$0</span>
<span style="position:absolute;left:57.75px;top:186.16px;font:400 9px/1.117 'Liberation Sans', sans-serif;color:#2f3b46;white-space:pre;letter-spacing:-0.083px;">Oct 10</span>
<span style="position:absolute;left:122.79px;top:186.16px;font:400 9px/1.117 'Liberation Sans', sans-serif;color:#2f3b46;white-space:pre;letter-spacing:-0.083px;">Oct 13</span>
<span style="position:absolute;left:187.83px;top:186.16px;font:400 9px/1.117 'Liberation Sans', sans-serif;color:#2f3b46;white-space:pre;letter-spacing:-0.083px;">Oct 16</span>
<span style="position:absolute;left:252.87px;top:186.16px;font:400 9px/1.117 'Liberation Sans', sans-serif;color:#2f3b46;white-space:pre;letter-spacing:-0.083px;">Oct 19</span>
<span style="position:absolute;left:317.91px;top:186.16px;font:400 9px/1.117 'Liberation Sans', sans-serif;color:#2f3b46;white-space:pre;letter-spacing:-0.083px;">Oct 22</span>
<span style="position:absolute;left:382.95px;top:186.16px;font:400 9px/1.117 'Liberation Sans', sans-serif;color:#2f3b46;white-space:pre;letter-spacing:-0.083px;">Oct 25</span>
<span style="position:absolute;left:447.99px;top:186.16px;font:400 9px/1.117 'Liberation Sans', sans-serif;color:#2f3b46;white-space:pre;letter-spacing:-0.083px;">Oct 28</span>
<span style="position:absolute;left:513.03px;top:186.16px;font:400 9px/1.117 'Liberation Sans', sans-serif;color:#2f3b46;white-space:pre;letter-spacing:-0.083px;">Oct 31</span>
<span style="position:absolute;left:579.37px;top:186.16px;font:400 9px/1.117 'Liberation Sans', sans-serif;color:#2f3b46;white-space:pre;letter-spacing:-0.004px;">Nov 3</span>
<span style="position:absolute;left:644.41px;top:186.16px;font:400 9px/1.117 'Liberation Sans', sans-serif;color:#2f3b46;white-space:pre;letter-spacing:-0.004px;">Nov 6</span>
<span style="position:absolute;left:708.95px;top:186.16px;font:400 9px/1.117 'Liberation Sans', sans-serif;color:#2f3b46;white-space:pre;letter-spacing:-0.004px;">Nov 9</span>
<span style="position:absolute;left:798.00px;top:162.95px;font:400 10px/1.117 'Liberation Sans', sans-serif;color:#f5a623;white-space:pre;letter-spacing:-0.567px;clip-path:inset(3.6px 0 0 0);">10% &lt; Cost Change &lt;= 20%</span>
<span style="position:absolute;left:797.60px;top:152.23px;font:700 10.8px/1.117 'Liberation Sans', sans-serif;color:#f0627a;white-space:pre;letter-spacing:-0.062px;">Cost Change &gt; 20%</span>
<span style="position:absolute;left:776.00px;top:51.45px;font:400 9px/1.117 'Liberation Sans', sans-serif;color:#2f3b46;white-space:pre;letter-spacing:-0.516px;">4M</span>
<span style="position:absolute;left:776.00px;top:79.75px;font:400 9px/1.117 'Liberation Sans', sans-serif;color:#2f3b46;white-space:pre;letter-spacing:-0.516px;">3M</span>
<span style="position:absolute;left:776.00px;top:107.66px;font:400 9px/1.117 'Liberation Sans', sans-serif;color:#2f3b46;white-space:pre;letter-spacing:-0.516px;">2M</span>
<span style="position:absolute;left:776.00px;top:135.56px;font:400 9px/1.117 'Liberation Sans', sans-serif;color:#2f3b46;white-space:pre;letter-spacing:-0.516px;">1M</span>
<span style="position:absolute;left:783.00px;top:163.75px;font:400 9px/1.117 'Liberation Sans', sans-serif;color:#2f3b46;white-space:pre;letter-spacing:0.000px;">0</span>
<span style="position:absolute;left:790.55px;top:186.16px;font:400 9px/1.117 'Liberation Sans', sans-serif;color:#2f3b46;white-space:pre;letter-spacing:-0.083px;">Oct 10</span>
<span style="position:absolute;left:855.59px;top:186.16px;font:400 9px/1.117 'Liberation Sans', sans-serif;color:#2f3b46;white-space:pre;letter-spacing:-0.083px;">Oct 13</span>
<span style="position:absolute;left:920.63px;top:186.16px;font:400 9px/1.117 'Liberation Sans', sans-serif;color:#2f3b46;white-space:pre;letter-spacing:-0.083px;">Oct 16</span>
<span style="position:absolute;left:985.67px;top:186.16px;font:400 9px/1.117 'Liberation Sans', sans-serif;color:#2f3b46;white-space:pre;letter-spacing:-0.083px;">Oct 19</span>
<span style="position:absolute;left:1050.71px;top:186.16px;font:400 9px/1.117 'Liberation Sans', sans-serif;color:#2f3b46;white-space:pre;letter-spacing:-0.083px;">Oct 22</span>
<span style="position:absolute;left:1115.75px;top:186.16px;font:400 9px/1.117 'Liberation Sans', sans-serif;color:#2f3b46;white-space:pre;letter-spacing:-0.083px;">Oct 25</span>
<span style="position:absolute;left:1180.79px;top:186.16px;font:400 9px/1.117 'Liberation Sans', sans-serif;color:#2f3b46;white-space:pre;letter-spacing:-0.083px;">Oct 28</span>
<span style="position:absolute;left:1245.83px;top:186.16px;font:400 9px/1.117 'Liberation Sans', sans-serif;color:#2f3b46;white-space:pre;letter-spacing:-0.083px;">Oct 31</span>
<span style="position:absolute;left:1312.17px;top:186.16px;font:400 9px/1.117 'Liberation Sans', sans-serif;color:#2f3b46;white-space:pre;letter-spacing:-0.004px;">Nov 3</span>
<span style="position:absolute;left:1377.21px;top:186.16px;font:400 9px/1.117 'Liberation Sans', sans-serif;color:#2f3b46;white-space:pre;letter-spacing:-0.004px;">Nov 6</span>
<span style="position:absolute;left:1441.75px;top:186.16px;font:400 9px/1.117 'Liberation Sans', sans-serif;color:#2f3b46;white-space:pre;letter-spacing:-0.004px;">Nov 9</span>
<span style="position:absolute;left:65.20px;top:212.50px;font:400 10.5px/1.117 'Liberation Sans', sans-serif;color:#3e4a57;white-space:pre;letter-spacing:-0.093px;">bedrock</span>
<span style="position:absolute;left:131.70px;top:212.50px;font:400 10.5px/1.117 'Liberation Sans', sans-serif;color:#3e4a57;white-space:pre;letter-spacing:0.148px;">cloudformation</span>
<span style="position:absolute;left:232.00px;top:212.50px;font:400 10.5px/1.117 'Liberation Sans', sans-serif;color:#3e4a57;white-space:pre;letter-spacing:-0.045px;">cloudshell</span>
<span style="position:absolute;left:308.00px;top:212.50px;font:400 10.5px/1.117 'Liberation Sans', sans-serif;color:#3e4a57;white-space:pre;letter-spacing:0.108px;">cloudtrail</span>
<span style="position:absolute;left:380.00px;top:212.50px;font:400 10.5px/1.117 'Liberation Sans', sans-serif;color:#3e4a57;white-space:pre;letter-spacing:0.030px;">cloudwatch</span>
<span style="position:absolute;left:462.80px;top:212.50px;font:400 10.5px/1.117 'Liberation Sans', sans-serif;color:#3e4a57;white-space:pre;letter-spacing:-0.086px;">config</span>
<span style="position:absolute;left:520.90px;top:212.50px;font:400 10.5px/1.117 'Liberation Sans', sans-serif;color:#3e4a57;white-space:pre;letter-spacing:-0.073px;">costexplorer</span>
<span style="position:absolute;left:607.50px;top:212.50px;font:400 10.5px/1.117 'Liberation Sans', sans-serif;color:#3e4a57;white-space:pre;letter-spacing:-0.078px;">dynamodb</span>
<span style="position:absolute;left:798.30px;top:212.50px;font:400 10.5px/1.117 'Liberation Sans', sans-serif;color:#3e4a57;white-space:pre;letter-spacing:-0.143px;">bedrock</span>
<span style="position:absolute;left:864.80px;top:212.50px;font:400 10.5px/1.117 'Liberation Sans', sans-serif;color:#3e4a57;white-space:pre;letter-spacing:-0.188px;">claude 3 haiku (amazon b...</span>
<span style="position:absolute;left:1023.90px;top:212.50px;font:400 10.5px/1.117 'Liberation Sans', sans-serif;color:#3e4a57;white-space:pre;letter-spacing:-0.234px;">claude 3.5 haiku (amazon ...</span>
<span style="position:absolute;left:1183.30px;top:212.50px;font:400 10.5px/1.117 'Liberation Sans', sans-serif;color:#3e4a57;white-space:pre;letter-spacing:-0.188px;">claude sonnet 4 (amazon ...</span>
<span style="position:absolute;left:1342.40px;top:212.50px;font:400 10.5px/1.117 'Liberation Sans', sans-serif;color:#3e4a57;white-space:pre;letter-spacing:0.148px;">cloudformation</span>
<span style="position:absolute;left:61.50px;top:248.22px;font:400 16px/1.117 'Liberation Sans', sans-serif;color:#1c2b34;white-space:pre;letter-spacing:0.404px;">Select a cost monitor type</span>
<span style="position:absolute;left:61.50px;top:472.32px;font:400 16px/1.117 'Liberation Sans', sans-serif;color:#1c2b34;white-space:pre;letter-spacing:0.346px;">Specify which cost to track</span>
<span style="position:absolute;left:61.50px;top:706.32px;font:400 16px/1.117 'Liberation Sans', sans-serif;color:#1c2b34;white-space:pre;letter-spacing:0.422px;">Set alert conditions</span>
<span style="position:absolute;left:75.40px;top:297.78px;font:400 13.5px/1.117 'Liberation Sans', sans-serif;color:#fff;white-space:pre;letter-spacing:-0.060px;">Cost Changes</span>
<span style="position:absolute;left:186.70px;top:297.78px;font:400 13.5px/1.117 'Liberation Sans', sans-serif;color:#1c2b34;white-space:pre;letter-spacing:0.208px;">Cost Anomalies</span>
<span style="position:absolute;left:287.50px;top:300.86px;font:700 9px/1.117 'Liberation Sans', sans-serif;color:#a033ee;white-space:pre;letter-spacing:0.047px;">PREVIEW</span>
<span style="position:absolute;left:355.50px;top:297.78px;font:400 13.5px/1.117 'Liberation Sans', sans-serif;color:#1c2b34;white-space:pre;letter-spacing:0.131px;">Cost Threshold</span>
<span style="position:absolute;left:475.20px;top:297.78px;font:400 13.5px/1.117 'Liberation Sans', sans-serif;color:#1c2b34;white-space:pre;letter-spacing:-0.044px;">Cost Forecast</span>
<span style="position:absolute;left:563.50px;top:300.86px;font:700 9px/1.117 'Liberation Sans', sans-serif;color:#a033ee;white-space:pre;letter-spacing:-0.036px;">PREVIEW</span>
<span style="position:absolute;left:630.70px;top:297.78px;font:400 13.5px/1.117 'Liberation Sans', sans-serif;color:#1c2b34;white-space:pre;letter-spacing:0.501px;">Budget</span>
<span style="position:absolute;left:61.90px;top:341.69px;font:400 12.5px/1.117 'Liberation Sans', sans-serif;color:#1c2b34;white-space:pre;letter-spacing:-0.133px;">Once a day, compare the total cost for the past</span>
<span style="position:absolute;left:330.70px;top:341.69px;font:400 12.5px/1.117 'Liberation Sans', sans-serif;color:#1c2b34;white-space:pre;letter-spacing:-0.414px;">30 days</span>
<span style="position:absolute;left:412.00px;top:341.69px;font:400 12.5px/1.117 'Liberation Sans', sans-serif;color:#1c2b34;white-space:pre;letter-spacing:-0.184px;">to the previous 30 days.</span>
<span style="position:absolute;left:77.50px;top:375.65px;font:400 11px/1.117 'Liberation Sans', sans-serif;color:#632ca6;white-space:pre;letter-spacing:-0.133px;">Example</span>
<span style="position:absolute;left:61.90px;top:397.69px;font:400 11.5px/1.117 'Liberation Sans', sans-serif;color:#6b7680;white-space:pre;letter-spacing:-0.120px;">Compare the costs from</span>
<span style="position:absolute;left:185.30px;top:398.51px;font:400 10.6px/1.117 'Liberation Mono', monospace;color:#1c2b34;white-space:pre;letter-spacing:-0.078px;">OCT 10 - NOV 9</span>
<span style="position:absolute;left:276.00px;top:398.33px;font:400 10.8px/1.117 'Liberation Sans', sans-serif;color:#6b7680;white-space:pre;letter-spacing:-0.248px;">vs.</span>
<span style="position:absolute;left:292.50px;top:398.51px;font:400 10.6px/1.117 'Liberation Mono', monospace;color:#1c2b34;white-space:pre;letter-spacing:-0.038px;">SEP 9 - OCT 9</span>
<span style="position:absolute;left:61.90px;top:419.89px;font:400 11.5px/1.117 'Liberation Sans', sans-serif;color:#6b7680;white-space:pre;letter-spacing:-0.050px;">Alert me when the difference is</span>
<span style="position:absolute;left:221.30px;top:420.71px;font:400 10.6px/1.117 'Liberation Mono', monospace;color:#1c2b34;white-space:pre;letter-spacing:-0.080px;">&gt; 5% and at least $500</span>
<span style="position:absolute;left:360.50px;top:419.89px;font:400 11.5px/1.117 'Liberation Sans', sans-serif;color:#6b7680;white-space:pre;letter-spacing:0.000px;">.</span>
<span style="position:absolute;left:70.80px;top:518.79px;font:700 12.5px/1.117 'Liberation Sans', sans-serif;color:#fff;white-space:pre;letter-spacing:0.000px;">a</span>
<span style="position:absolute;left:95.60px;top:518.79px;font:400 12.5px/1.117 'Liberation Sans', sans-serif;color:#1c2b34;white-space:pre;letter-spacing:-0.383px;">Cloud Cost</span>
<span style="position:absolute;left:183.00px;top:521.20px;font:400 11.6px/1.117 'Liberation Sans', sans-serif;color:#1a6fd1;white-space:pre;letter-spacing:0.000px;">AWS</span>
<span style="position:absolute;left:299.00px;top:518.79px;font:400 12.5px/1.117 'Liberation Sans', sans-serif;color:#1c2b34;white-space:pre;letter-spacing:-0.093px;">Net Amortized</span>
<span style="position:absolute;left:413.00px;top:518.79px;font:400 12.5px/1.117 'Liberation Sans', sans-serif;color:#5f6b76;white-space:pre;letter-spacing:-0.134px;">Container Allocated</span>
<span style="position:absolute;left:533.00px;top:518.79px;font:400 12.5px/1.117 'Liberation Sans', sans-serif;color:#1c2b34;white-space:pre;letter-spacing:-0.413px;">Enabled</span>
<span style="position:absolute;left:619.60px;top:518.79px;font:400 12.5px/1.117 'Liberation Sans', sans-serif;color:#5f6b76;white-space:pre;letter-spacing:-0.355px;">Usage Charges Only</span>
<span style="position:absolute;left:743.00px;top:518.79px;font:400 12.5px/1.117 'Liberation Sans', sans-serif;color:#1c2b34;white-space:pre;letter-spacing:-0.479px;">Enabled</span>
<span style="position:absolute;left:196.60px;top:550.89px;font:400 12.5px/1.117 'Liberation Sans', sans-serif;color:#5f6b76;white-space:pre;letter-spacing:-0.257px;">Filter by</span>
<span style="position:absolute;left:278.00px;top:551.49px;font:400 12.5px/1.117 'Liberation Sans', sans-serif;color:#1c2b34;white-space:pre;letter-spacing:-0.367px;"><span style="color:#1c2b34">aws_cost_type </span><span style="color:#c41a8f">IN (</span><span style="color:#1f3c82">Usage</span><span style="color:#c41a8f">,</span><span style="color:#1f3c82">DiscountedUsage</span><span style="color:#c41a8f">,</span><span style="color:#1f3c82">SavingsPlanCoveredUsage</span><span style="color:#c41a8f">)</span></span>
<span style="position:absolute;left:669.60px;top:553.03px;font:400 10.8px/1.117 'Liberation Sans', sans-serif;color:#c41a8f;white-space:pre;letter-spacing:-0.698px;">AND</span>
<span style="position:absolute;left:699.60px;top:551.49px;font:400 12.5px/1.117 'Liberation Sans', sans-serif;color:#1c2b34;white-space:pre;letter-spacing:-0.248px;"><span style="color:#1c2b34">aws_product </span><span style="color:#c41a8f">NOT IN (</span><span style="color:#1f3c82">supportenterprise</span><span style="color:#c41a8f">)</span></span>
<span style="position:absolute;left:975.60px;top:550.89px;font:400 12.5px/1.117 'Liberation Sans', sans-serif;color:#5f6b76;white-space:pre;letter-spacing:-0.375px;">Group by</span>
<span style="position:absolute;left:1039.60px;top:550.29px;font:400 12.5px/1.117 'Liberation Sans', sans-serif;color:#5f6b76;white-space:pre;letter-spacing:-0.287px;">aws_product</span>
<span style="position:absolute;left:1315.20px;top:550.89px;font:400 12.5px/1.117 'Liberation Sans', sans-serif;color:#5f6b76;white-space:pre;letter-spacing:0.044px;">rollup</span>
<span style="position:absolute;left:1360.30px;top:550.89px;font:400 12.5px/1.117 'Liberation Sans', sans-serif;color:#1c2b34;white-space:pre;letter-spacing:-0.180px;">daily</span>
<span style="position:absolute;left:92.00px;top:590.69px;font:400 12.5px/1.117 'Liberation Sans', sans-serif;color:#1c2b34;white-space:pre;letter-spacing:-0.271px;">Add Query</span>
<span style="position:absolute;left:197.00px;top:590.69px;font:400 12.5px/1.117 'Liberation Sans', sans-serif;color:#1c2b34;white-space:pre;letter-spacing:-0.296px;">Add Formula</span>
<span style="position:absolute;left:77.30px;top:631.54px;font:400 11px/1.117 'Liberation Sans', sans-serif;color:#632ca6;white-space:pre;letter-spacing:-0.133px;">Example</span>
<span style="position:absolute;left:62.00px;top:652.69px;font:400 11.5px/1.117 'Liberation Sans', sans-serif;color:#6b7680;white-space:pre;letter-spacing:-0.143px;">To set an alert for each</span>
<span style="position:absolute;left:180.00px;top:653.51px;font:400 10.6px/1.117 'Liberation Mono', monospace;color:#1c2b34;white-space:pre;letter-spacing:-0.479px;">team</span>
<span style="position:absolute;left:204.00px;top:652.69px;font:400 11.5px/1.117 'Liberation Sans', sans-serif;color:#6b7680;white-space:pre;letter-spacing:-0.320px;">, add</span>
<span style="position:absolute;left:232.30px;top:653.51px;font:400 10.6px/1.117 'Liberation Mono', monospace;color:#1c2b34;white-space:pre;letter-spacing:-0.346px;">team</span>
<span style="position:absolute;left:260.00px;top:652.69px;font:400 11.5px/1.117 'Liberation Sans', sans-serif;color:#6b7680;white-space:pre;letter-spacing:-0.096px;">to the</span>
<span style="position:absolute;left:292.30px;top:653.51px;font:400 10.6px/1.117 'Liberation Mono', monospace;color:#1c2b34;white-space:pre;letter-spacing:-0.123px;">group by</span>
<span style="position:absolute;left:345.70px;top:652.69px;font:400 11.5px/1.117 'Liberation Sans', sans-serif;color:#6b7680;white-space:pre;letter-spacing:-0.118px;">field in queries above.</span>
<span style="position:absolute;left:62.40px;top:753.09px;font:400 12.5px/1.117 'Liberation Sans', sans-serif;color:#1c2b34;white-space:pre;letter-spacing:-0.107px;">Trigger when the cost</span>
<span style="position:absolute;left:195.40px;top:753.09px;font:400 12.5px/1.117 'Liberation Sans', sans-serif;color:#1c2b34;white-space:pre;letter-spacing:-0.413px;">increases</span>
<span style="position:absolute;left:279.20px;top:753.09px;font:400 12.5px/1.117 'Liberation Sans', sans-serif;color:#1c2b34;white-space:pre;letter-spacing:-0.057px;">more than the threshold(s) for any</span>
<span style="position:absolute;left:469.20px;top:753.09px;font:700 12.5px/1.117 'Liberation Sans', sans-serif;color:#1c2b34;white-space:pre;letter-spacing:-0.631px;">aws_product</span>
<span style="position:absolute;left:540.60px;top:753.09px;font:400 12.5px/1.117 'Liberation Sans', sans-serif;color:#1c2b34;white-space:pre;letter-spacing:0.000px;">.</span>
<span style="position:absolute;left:71.60px;top:807.09px;font:400 12.5px/1.117 'Liberation Sans', sans-serif;color:#fff;white-space:pre;letter-spacing:-0.436px;">% Percent Change</span>
<span style="position:absolute;left:189.00px;top:807.09px;font:400 12.5px/1.117 'Liberation Sans', sans-serif;color:#1c2b34;white-space:pre;letter-spacing:-0.449px;">$ Cost Change</span>
<span style="position:absolute;left:73.40px;top:845.69px;font:700 12.5px/1.117 'Liberation Sans', sans-serif;color:#1c2b34;white-space:pre;letter-spacing:-0.271px;">Alert</span>
<span style="position:absolute;left:104.60px;top:845.69px;font:400 12.5px/1.117 'Liberation Sans', sans-serif;color:#1c2b34;white-space:pre;letter-spacing:-0.080px;">threshold</span>
<span style="position:absolute;left:303.00px;top:845.69px;font:400 12.5px/1.117 'Liberation Sans', sans-serif;color:#1c2b34;white-space:pre;letter-spacing:0.000px;">&gt;</span>
<span style="position:absolute;left:338.60px;top:845.69px;font:400 12.5px/1.117 'Liberation Sans', sans-serif;color:#1c2b34;white-space:pre;letter-spacing:0.000px;">20</span>
<span style="position:absolute;left:408.50px;top:845.69px;font:400 12.5px/1.117 'Liberation Sans', sans-serif;color:#1c2b34;white-space:pre;letter-spacing:0.000px;">%</span>
<span style="position:absolute;left:73.40px;top:885.29px;font:700 12.5px/1.117 'Liberation Sans', sans-serif;color:#1c2b34;white-space:pre;letter-spacing:-0.322px;">Warning</span>
<span style="position:absolute;left:124.80px;top:885.29px;font:400 12.5px/1.117 'Liberation Sans', sans-serif;color:#1c2b34;white-space:pre;letter-spacing:-0.080px;">threshold</span>
<span style="position:absolute;left:303.00px;top:885.29px;font:400 12.5px/1.117 'Liberation Sans', sans-serif;color:#1c2b34;white-space:pre;letter-spacing:0.000px;">&gt;</span>
<span style="position:absolute;left:338.60px;top:885.29px;font:400 12.5px/1.117 'Liberation Sans', sans-serif;color:#1c2b34;white-space:pre;letter-spacing:0.000px;">10</span>
<span style="position:absolute;left:408.50px;top:885.29px;font:400 12.5px/1.117 'Liberation Sans', sans-serif;color:#1c2b34;white-space:pre;letter-spacing:0.000px;">%</span>
<span style="position:absolute;left:425.60px;top:885.29px;font:400 12.5px/1.117 'Liberation Sans', sans-serif;color:#8a949c;white-space:pre;letter-spacing:-0.166px;">(Optional)</span>
</body></html>
